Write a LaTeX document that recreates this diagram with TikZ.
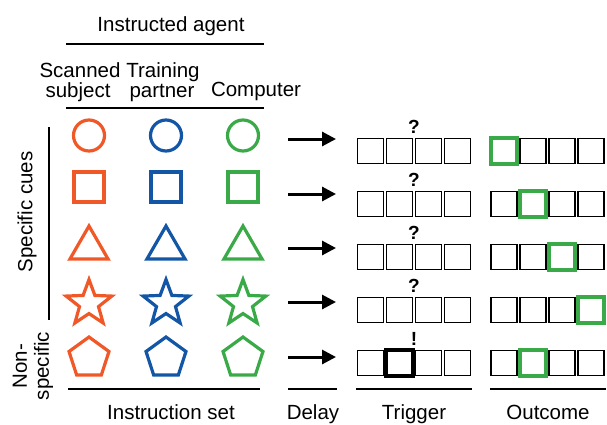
\documentclass[tikz,border=0pt]{standalone}
\usepackage{fontspec}
\setmainfont{Liberation Sans}
\usetikzlibrary{arrows.meta,shapes.geometric}
\definecolor{cor}{RGB}{240,88,40}
\definecolor{cbl}{RGB}{18,86,165}
\definecolor{cgr}{RGB}{58,170,72}
\begin{document}
\begin{tikzpicture}[x=1pt,y=-1pt,
  lbl/.style={font=\fontsize{20.5}{22}\selectfont, inner sep=0pt, anchor=base},
  rlbl/.style={font=\fontsize{20.5}{22}\selectfont, inner sep=0pt, rotate=90, align=center},
  rule/.style={line width=1.1pt},
  shp/.style={draw, line width=3.2pt, inner sep=0pt, outer sep=0pt},
  circ/.style={shp, circle, minimum size=31pt},
  sqr/.style={shp, rectangle, minimum size=30pt},
  tri/.style={shp, regular polygon, regular polygon sides=3, minimum size=44pt},
  strs/.style={shp, star, star points=5, star point ratio=2.4, minimum size=48pt},
  pent/.style={shp, regular polygon, regular polygon sides=5, minimum size=42pt},
  cell/.style={draw, line width=1.1pt, rectangle, minimum width=26pt, minimum height=25pt, inner sep=0pt},
  hl/.style={draw=cgr, line width=3.6pt, rectangle, minimum width=26.5pt, minimum height=25.5pt, inner sep=0pt},
  hb/.style={draw=black, line width=3.6pt, rectangle, minimum width=26.5pt, minimum height=25.5pt, inner sep=0pt},
  arr/.style={line width=3pt, -{Triangle[length=14pt,width=14pt]}},
  qmark/.style={font=\bfseries\fontsize{19}{20}\selectfont, inner sep=0pt}
]
\useasboundingbox (0,0) rectangle (607,424);

% header
\node[lbl] (ia) at (171,31) {Instructed agent};
\coordinate (h1a) at (66,44); \coordinate (h1b) at (264,44);
\draw[rule] (h1a) -- (h1b);
\node[lbl] (sc1) at (80,77) {Scanned};
\node[lbl] (sc2) at (78,97) {subject};
\node[lbl] (tp1) at (163,77) {Training};
\node[lbl] (tp2) at (162,97) {partner};
\node[lbl] (cp) at (256,96) {Computer};
\coordinate (h2a) at (66,108); \coordinate (h2b) at (264,108);
\draw[rule] (h2a) -- (h2b);

% left labels
\node[rlbl] (spc) at (27,212) {Specific cues};
\coordinate (v1a) at (49,127); \coordinate (v1b) at (49,320);
\draw[rule] (v1a) -- (v1b);
\node[rlbl] (nsp) at (33,366) {Non-\\specific};

% shapes
\foreach \c/\x in {cor/89,cbl/166,cgr/243}{
  \node[circ, draw=\c] (ci\c) at (\x,135.5) {};
  \node[sqr, draw=\c] (sq\c) at (\x,187) {};
  \node[tri, draw=\c] (tr\c) at (\x,248) {};
  \node[strs, draw=\c] (st\c) at (\x,303.5) {};
  \node[pent, draw=\c] (pe\c) at (\x,358) {};
}

% arrows
\foreach \i/\y in {1/139,2/194,3/248,4/302,5/357}{
  \coordinate (as\i) at (288,\y);
  \coordinate (ae\i) at (336,\y);
  \draw[arr] (as\i) -- (ae\i);
}

% boxes
\foreach \r/\y in {1/151,2/204,3/257,4/310,5/363}{
  \foreach \k/\x in {1/370.5,2/399.5,3/428.5,4/457.5}{
    \node[cell] (t\r\k) at (\x,\y) {};
  }
  \foreach \k/\x in {1/504,2/533,3/562,4/591}{
    \node[cell] (o\r\k) at (\x,\y) {};
  }
}
\node[hl] (g1) at (o11) {};
\node[hl] (g2) at (o22) {};
\node[hl] (g3) at (o33) {};
\node[hl] (g4) at (o44) {};
\node[hl] (g5) at (o52) {};
\node[hb] (b5) at (t52) {};

% marks
\node[qmark] (q1) at (414,127) {?};
\node[qmark] (q2) at (414,180) {?};
\node[qmark] (q3) at (414,233) {?};
\node[qmark] (q4) at (414,286) {?};
\node[qmark] (ex) at (414,339) {!};

% bottom rules and labels
\coordinate (b1a) at (68,389); \coordinate (b1b) at (260,389);
\coordinate (b2a) at (288,389); \coordinate (b2b) at (337,389);
\coordinate (b3a) at (356,389); \coordinate (b3b) at (472,389);
\coordinate (b4a) at (490,389); \coordinate (b4b) at (606,389);
\draw[rule] (b1a) -- (b1b);
\draw[rule] (b2a) -- (b2b);
\draw[rule] (b3a) -- (b3b);
\draw[rule] (b4a) -- (b4b);
\node[lbl] (is) at (171,419) {Instruction set};
\node[lbl] (dl) at (313,419) {Delay};
\node[lbl] (tg) at (414,419) {Trigger};
\node[lbl] (oc) at (548,419) {Outcome};
\end{tikzpicture}
\end{document}
